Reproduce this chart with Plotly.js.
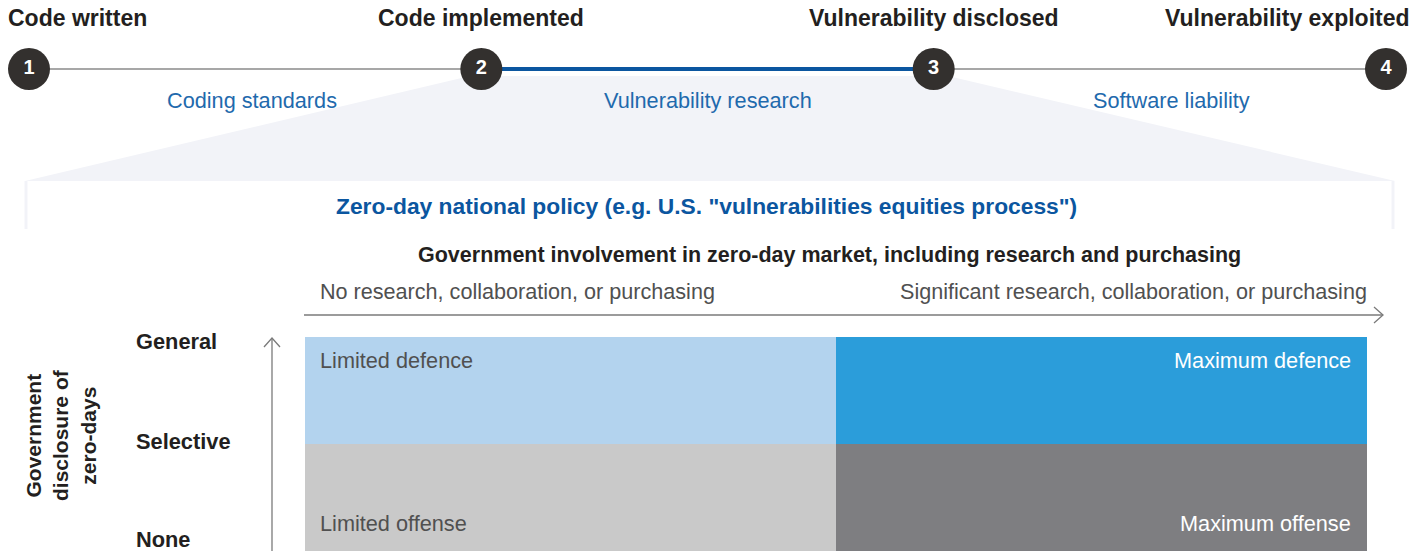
<!DOCTYPE html>
<html>
<head>
<meta charset="utf-8">
<script src="https://cdn.plot.ly/plotly-3.0.1.min.js"></script>
<style>
  html, body { margin: 0; padding: 0; background: #ffffff; }
  #chart { width: 1426px; height: 551px; }
</style>
</head>
<body>
<div id="chart"></div>
<script>
// ---------- data ----------
const stageNumbers = [1, 2, 3, 4];
const stageTitles = ["Code written", "Code implemented", "Vulnerability disclosed", "Vulnerability exploited"];
const phaseLabels = ["Coding standards", "Vulnerability research", "Software liability"];
const focusPhase = [2, 3]; // highlighted span: Vulnerability research
const policyTitle = 'Zero-day national policy (e.g. U.S. "vulnerabilities equities process")';
const xAxisTitle = "Government involvement in zero-day market, including research and purchasing";
const xEndLabels = ["No research, collaboration, or purchasing", "Significant research, collaboration, or purchasing"];
const yAxisTitle = ["Government", "disclosure of", "zero-days"];
const yLevels = ["None", "Selective", "General"];
const quadX = [0.5, 1.5];            // involvement: limited, significant
const quadY = [0.5, 1.5];            // disclosure: low, high
const quadZ = [[0, 2], [1, 3]];      // category index per cell
const quadLabels = [["Limited offense", "Maximum offense"], ["Limited defence", "Maximum defence"]];

// ---------- layout helpers (pixel frame) ----------
const W = 1426, H = 551;
const px = x => x / W;
const py = y => 1 - y / H;
const FONT = "Liberation Sans, Arial, Helvetica, sans-serif";
const DARK = "#231f20", GREY = "#505050", BLUE = "#0b56a0", LBLUE = "#1f6aad";

const quadColors = ["#c9c9c9", "#b3d3ee", "#7e7e81", "#2b9dda"];
const tlY = 69;
const tlX0 = 29, tlX1 = 1386;

const traces = [
  // base timeline
  { type: "scatter", mode: "lines", xaxis: "x2", yaxis: "y2", cliponaxis: false,
    x: [stageNumbers[0], stageNumbers[stageNumbers.length - 1]], y: [tlY, tlY],
    line: { color: "#8a8a8a", width: 1.3 }, hoverinfo: "skip" },
  // highlighted segment
  { type: "scatter", mode: "lines", xaxis: "x2", yaxis: "y2", cliponaxis: false,
    x: focusPhase, y: [tlY, tlY],
    line: { color: BLUE, width: 4 }, hoverinfo: "skip" },
  // stage circles
  { type: "scatter", mode: "markers+text", xaxis: "x2", yaxis: "y2", cliponaxis: false,
    x: stageNumbers, y: stageNumbers.map(() => tlY),
    text: stageNumbers.map(String), textposition: "middle center",
    textfont: { family: FONT, size: 20, color: "#ffffff", weight: "bold" },
    marker: { size: 42, color: "#33302e", line: { width: 0 } }, hoverinfo: "skip" },
  // quadrant matrix
  { type: "heatmap", xaxis: "x3", yaxis: "y3",
    x: quadX, y: quadY, z: quadZ, zmin: 0, zmax: 3,
    colorscale: [[0, quadColors[0]], [1/3, quadColors[1]], [2/3, quadColors[2]], [1, quadColors[3]]],
    showscale: false, hoverinfo: "skip", xgap: 0, ygap: 0 }
];

const annotations = [];
function txt(text, x, y, size, color, opts) {
  const o = opts || {};
  const anchor = o.xanchor || "center";
  const dx = anchor === "left" ? -2 : (anchor === "right" ? 2 : 0);
  annotations.push({
    text: text, xref: "paper", yref: "paper", x: px(x + dx), y: py(y),
    xanchor: anchor, yanchor: "middle", showarrow: false, textangle: o.textangle || 0,
    font: { family: FONT, size: size, color: color, weight: o.bold ? "bold" : "normal" }
  });
}

const stageX = stageNumbers.map(n => tlX0 + (n - 1) * (tlX1 - tlX0) / 3);
// stage titles
txt(stageTitles[0], 8, 18, 23, DARK, { xanchor: "left", bold: true });
txt(stageTitles[1], stageX[1], 18, 23, DARK, { bold: true });
txt(stageTitles[2], stageX[2], 18, 23, DARK, { bold: true });
txt(stageTitles[3], 1410, 18, 23, DARK, { xanchor: "right", bold: true });
// phase labels
const phaseOffsets = [-3, 0, 12];
phaseLabels.forEach((l, i) => txt(l, (stageX[i] + stageX[i + 1]) / 2 + phaseOffsets[i], 101, 21.7, LBLUE));

txt(policyTitle, 706, 206, 22.8, BLUE, { bold: true });
txt(xAxisTitle, 830, 255, 21.5, DARK, { bold: true });
txt(xEndLabels[0], 320, 291, 21.6, GREY, { xanchor: "left" });
txt(xEndLabels[1], 1367, 291, 21.6, GREY, { xanchor: "right" });

// y levels
txt(yLevels[2], 136, 341, 21.8, DARK, { xanchor: "left", bold: true });
txt(yLevels[1], 136, 441, 21.8, DARK, { xanchor: "left", bold: true });
txt(yLevels[0], 136, 539, 21.8, DARK, { xanchor: "left", bold: true });
// rotated y title
txt(yAxisTitle.join("<br>"), 61, 435, 21, DARK, { textangle: -90, bold: true });

// quadrant labels
txt(quadLabels[1][0], 320, 360, 21.7, GREY, { xanchor: "left" });
txt(quadLabels[1][1], 1351, 360, 21.7, "#ffffff", { xanchor: "right" });
txt(quadLabels[0][0], 320, 523, 21.7, GREY, { xanchor: "left" });
txt(quadLabels[0][1], 1351, 523, 21.7, "#ffffff", { xanchor: "right" });

// ---------- shapes in pixel frame ----------
const FUN = "#f2f3f8";
const shapes = [
  { type: "path", xref: "x", yref: "y", layer: "below",
    path: "M 470 76 L 948 76 L 1395 181 L 25 181 Z", fillcolor: FUN, line: { width: 0 } },
  { type: "line", xref: "x", yref: "y", x0: 26, x1: 26, y0: 181, y1: 229, line: { color: FUN, width: 3 }, layer: "below" },
  { type: "line", xref: "x", yref: "y", x0: 1393, x1: 1393, y0: 181, y1: 229, line: { color: FUN, width: 3 }, layer: "below" },
  // horizontal axis arrow
  { type: "line", xref: "x", yref: "y", x0: 304, x1: 1383, y0: 315, y1: 315, line: { color: "#7a7a7a", width: 1.3 } },
  { type: "path", xref: "x", yref: "y", path: "M 1374 307 L 1383 315 L 1374 323", line: { color: "#7a7a7a", width: 1.3 } },
  // vertical axis arrow
  { type: "line", xref: "x", yref: "y", x0: 272, x1: 272, y0: 551, y1: 338, line: { color: "#7a7a7a", width: 1.3 } },
  { type: "path", xref: "x", yref: "y", path: "M 264 347 L 272 338 L 280 347", line: { color: "#7a7a7a", width: 1.3 } }
];

const hidden = { visible: false, fixedrange: true, showgrid: false, zeroline: false };
const layout = {
  width: W, height: H,
  margin: { l: 0, r: 0, t: 0, b: 0, pad: 0 },
  paper_bgcolor: "#ffffff", plot_bgcolor: "rgba(0,0,0,0)",
  showlegend: false,
  xaxis: Object.assign({ range: [0, W], domain: [0, 1] }, hidden),
  yaxis: Object.assign({ range: [H, 0], domain: [0, 1] }, hidden),
  xaxis2: Object.assign({ range: [1, 4], domain: [px(tlX0), px(tlX1)], anchor: "y2" }, hidden),
  yaxis2: Object.assign({ range: [H, 0], domain: [0, 1], anchor: "x2" }, hidden),
  xaxis3: Object.assign({ range: [0, 2], domain: [px(305), px(1367)], anchor: "y3" }, hidden),
  yaxis3: Object.assign({ range: [0, 2], domain: [0, py(337)], anchor: "x3" }, hidden),
  shapes: shapes,
  annotations: annotations
};

Plotly.newPlot("chart", traces, layout, { displayModeBar: false, staticPlot: true });
</script>
</body>
</html>
